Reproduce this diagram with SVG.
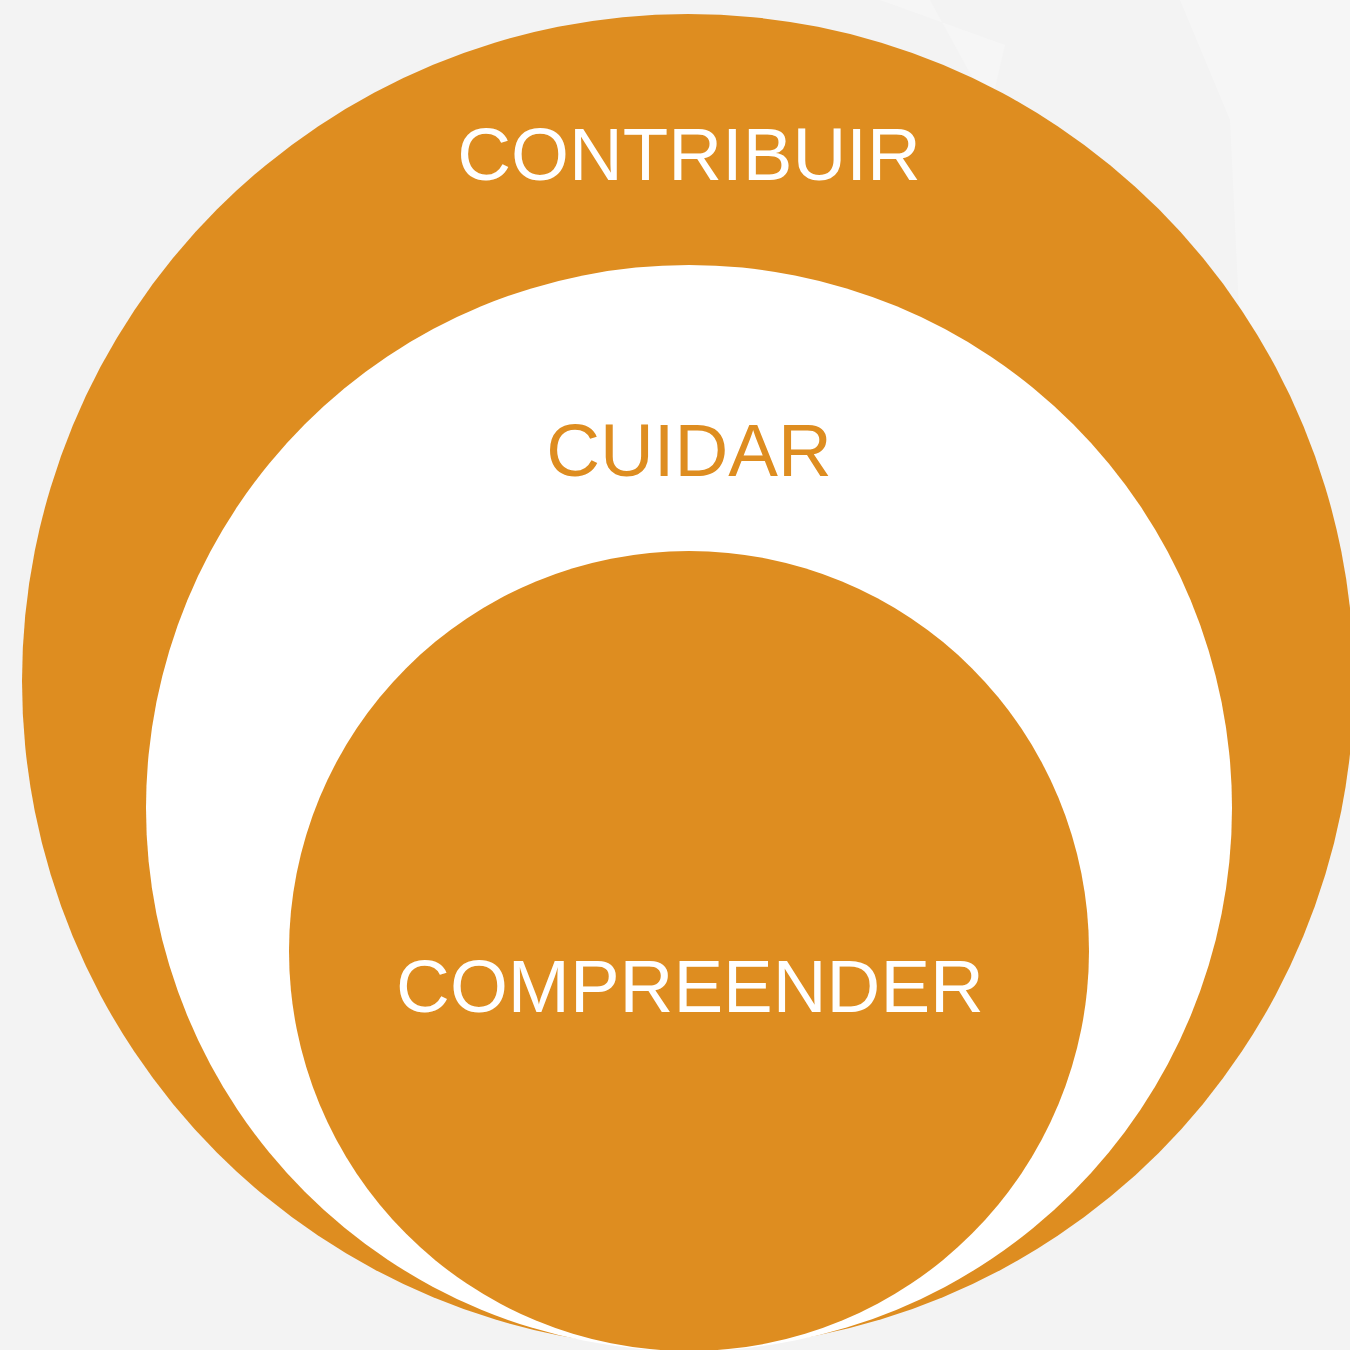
<svg xmlns="http://www.w3.org/2000/svg" width="1350" height="1350" viewBox="0 0 1350 1350">
<style>
.lbl{font-family:"Liberation Sans",Arial,sans-serif;font-size:74.5px;text-anchor:middle}
.or{fill:#DE8D20}
</style>
<rect width="1350" height="1350" fill="#F3F3F3"/>
<polygon points="880,0 1005,45 990,110 930,0" fill="#F6F6F6"/>
<polygon points="1180,0 1350,0 1350,330 1240,330 1230,120" fill="#F6F6F6"/>
<g id="contribuir">
<ellipse class="or" cx="688" cy="681" rx="666" ry="667"/>
<text class="lbl" x="689" y="180" fill="#FFFFFF">CONTRIBUIR</text>
</g>
<g id="cuidar">
<ellipse cx="689" cy="808" rx="543" ry="543" fill="#FFFFFF"/>
<text class="lbl" x="689" y="476" fill="#DE8D20">CUIDAR</text>
</g>
<g id="compreender">
<ellipse class="or" cx="689" cy="951" rx="400" ry="400"/>
<text class="lbl" x="690" y="1012" fill="#FFFFFF">COMPREENDER</text>
</g>
<g id="connectors"/>
</svg>
